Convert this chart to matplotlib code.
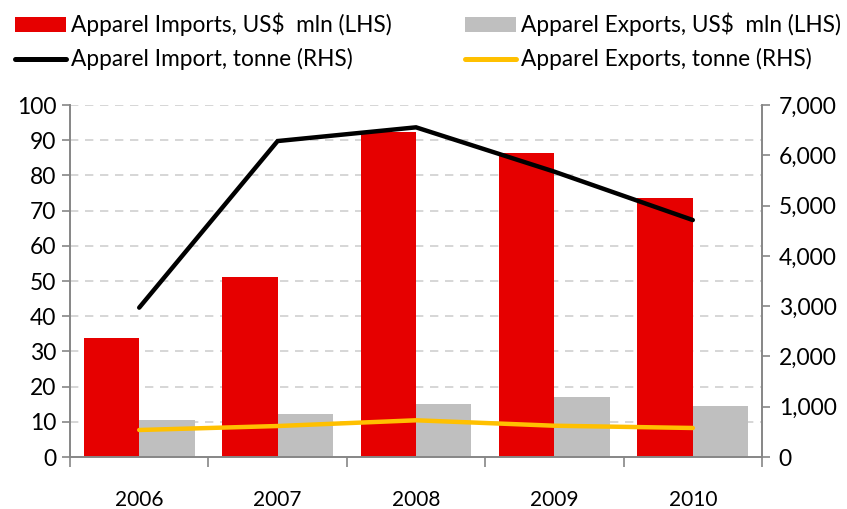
import numpy as np
import matplotlib.pyplot as plt
from matplotlib.patches import Patch
from matplotlib.lines import Line2D

plt.rcParams['font.family'] = ['Lato', 'DejaVu Sans']

years = ['2006', '2007', '2008', '2009', '2010']
imports_usd = [33.7, 51.2, 92.2, 86.3, 73.5]
exports_usd = [10.6, 12.2, 15.1, 17.1, 14.4]
imports_tonne = [2970, 6283, 6556, 5674, 4712]
exports_tonne = [537, 616, 730, 622, 577]

RED = '#E60000'
GREY = '#BFBFBF'
BLACK = '#000000'
GOLD = '#FFC000'
AXIS = '#868686'

fig = plt.figure(figsize=(8.47, 5.09), dpi=100)
ax = fig.add_axes([70 / 847, 1 - 457 / 509, 692 / 847, 352 / 509])
x = np.arange(len(years))
w = 0.4

ax.bar(x - w / 2, imports_usd, w, color=RED, zorder=2)
ax.bar(x + w / 2, exports_usd, w, color=GREY, zorder=2)

ax.set_xlim(-0.5, len(years) - 0.5)
ax.set_ylim(0, 100)
ax.set_yticks(range(0, 101, 10))
for v in range(10, 101, 10):
    ax.axhline(v, color='#D0D0D0', lw=1.2, ls=(0, (5, 4)), zorder=1)

# ticks at category boundaries, labels at centers
ax.set_xticks(np.arange(-0.5, len(years), 1))
ax.set_xticklabels([])
ax.set_xticks(x, minor=True)
ax.set_xticklabels(years, minor=True)
ax.tick_params(axis='x', which='major', length=7, color=AXIS, width=1.2)
ax.tick_params(axis='x', which='minor', length=0, pad=24, labelsize=15)
ax.tick_params(axis='y', length=6, color=AXIS, width=1.2, labelsize=16.5, pad=4)

ax2 = ax.twinx()
ax2.plot(x, imports_tonne, color=BLACK, lw=3.2, solid_capstyle='round', solid_joinstyle='miter')
ax2.plot(x, exports_tonne, color=GOLD, lw=3.2, solid_capstyle='round')
ax2.set_ylim(0, 7000)
ax2.set_yticks(range(0, 7001, 1000))
ax2.set_yticklabels([f'{v:,}' for v in range(0, 7001, 1000)])
ax2.tick_params(axis='y', length=6, color=AXIS, width=1.2, labelsize=16.5, pad=6)

for a in (ax, ax2):
    a.spines['top'].set_visible(False)
    for s in ('left', 'right', 'bottom'):
        a.spines[s].set_color(AXIS)
        a.spines[s].set_linewidth(1.2)

handles = [
    Patch(facecolor=RED, label='Apparel Imports, US$  mln (LHS)'),
    Line2D([], [], color=BLACK, lw=3.6, solid_capstyle='round', label='Apparel Import, tonne (RHS)'),
    Patch(facecolor=GREY, label='Apparel Exports, US$  mln (LHS)'),
    Line2D([], [], color=GOLD, lw=3.6, solid_capstyle='round', label='Apparel Exports, tonne (RHS)'),
]
fig.legend(handles=handles, loc='upper left', bbox_to_anchor=(8 / 847, 1 - 6 / 509), ncol=2,
           frameon=False, fontsize=16.3, handlelength=2.25, handleheight=0.63,
           handletextpad=0.23, columnspacing=3.25, labelspacing=0.53, borderaxespad=0.0,
           borderpad=0.3)

fig.savefig('out.png', dpi=100)
